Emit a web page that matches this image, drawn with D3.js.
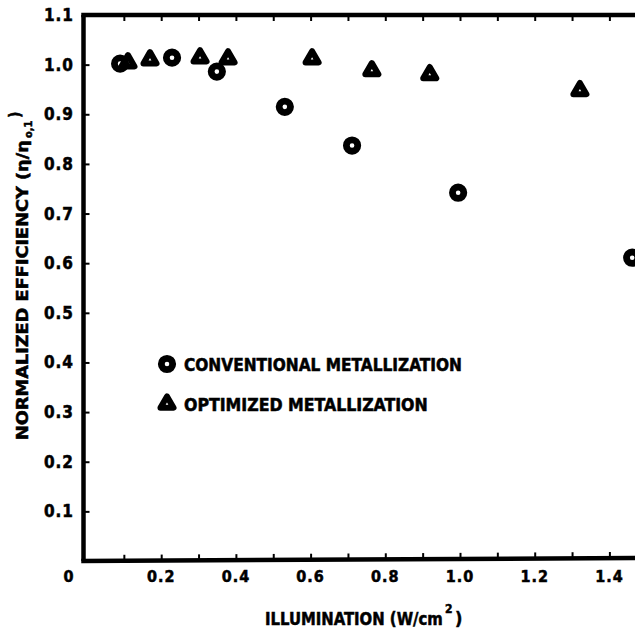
<!DOCTYPE html>
<html>
<head>
<meta charset="utf-8">
<script src="https://cdn.jsdelivr.net/npm/d3@7"></script>
<style>
  html, body { margin: 0; padding: 0; background: #fff; }
  svg { display: block; }
  text { font-family: "DejaVu Sans Condensed", "Liberation Sans Narrow", "DejaVu Sans", sans-serif; font-weight: bold; fill: #000; stroke: #000; stroke-width: 0.5; }
</style>
</head>
<body>
<script>
// ---- data ----
const convIllum = [0.090, 0.229, 0.349, 0.531, 0.711, 0.995, 1.461];
const convEff   = [1.002, 1.014, 0.986, 0.915, 0.837, 0.742, 0.611];
const optIllum  = [0.111, 0.170, 0.304, 0.379, 0.604, 0.764, 0.919, 1.321];
const optEff    = [1.004, 1.010, 1.014, 1.012, 1.012, 0.988, 0.980, 0.948];
const xTickLabels = [0.2, 0.4, 0.6, 0.8, 1.0, 1.2, 1.4];
const xMinorTicks = [0.1, 0.2, 0.3, 0.4, 0.5, 0.6, 0.7, 0.8, 0.9, 1.0, 1.1, 1.2, 1.3, 1.4];
const yTickLabels = [0.1, 0.2, 0.3, 0.4, 0.5, 0.6, 0.7, 0.8, 0.9, 1.0, 1.1];
const legendLabels = ["CONVENTIONAL  METALLIZATION", "OPTIMIZED  METALLIZATION"];

const W = 635, H = 634;
const svg = d3.select("body").append("svg").attr("width", W).attr("height", H);

const x = d3.scaleLinear().domain([0, 1.5]).range([86.5, 86.5 + 1.5 * 373.5]);
const y = d3.scaleLinear().domain([0, 1.1]).range([561, 15]);

const axisLeftX = 83.5;
const lw = 4.5;

// horizontally squeeze a text to a given width (keeps bbox honest)
function fitText(sel, tx, ty, width, rotate) {
  const L = sel.node().getComputedTextLength();
  const s = width / L;
  sel.attr("transform", `translate(${tx},${ty})` + (rotate ? ` rotate(${rotate})` : "") + ` scale(${s},1)`);
  return sel;
}

// frame: left axis, bottom axis, top axis
svg.append("path")
  .attr("d", `M${axisLeftX},${y(1.1)} L${axisLeftX},${y(0)}`)
  .attr("stroke", "#000").attr("stroke-width", lw).attr("fill", "none");
svg.append("path")
  .attr("d", `M${axisLeftX - lw/2},${y(0)} L${W},${y(0) - 3}`)
  .attr("stroke", "#000").attr("stroke-width", lw).attr("fill", "none");
svg.append("path")
  .attr("d", `M${axisLeftX - lw/2},${y(1.1)} L${W},${y(1.1)}`)
  .attr("stroke", "#000").attr("stroke-width", lw).attr("fill", "none");

// bottom minor ticks (inward)
const bt = svg.append("g").attr("transform", `translate(0,${y(0)})`)
  .call(d3.axisBottom(x).tickValues(xMinorTicks).tickSize(-6).tickFormat(""));
bt.select(".domain").remove();
bt.selectAll(".tick line").attr("stroke", "#000").attr("stroke-width", 2)
  .attr("transform", (d) => `translate(0,${-3 * d / 1.4})`);

// top minor ticks (inward)
const tt = svg.append("g").attr("transform", `translate(0,${y(1.1)})`)
  .call(d3.axisTop(x).tickValues(xMinorTicks).tickSize(-6).tickFormat(""));
tt.select(".domain").remove();
tt.selectAll(".tick line").attr("stroke", "#000").attr("stroke-width", 2);

// left ticks (inward)
const lt = svg.append("g").attr("transform", `translate(${axisLeftX},0)`)
  .call(d3.axisLeft(y).tickValues(yTickLabels.slice(0, 10)).tickSize(-6).tickFormat(""));
lt.select(".domain").remove();
lt.selectAll(".tick line").attr("stroke", "#000").attr("stroke-width", 2);

// y tick labels
svg.append("g").selectAll("text").data(yTickLabels).join("text")
  .attr("x", 74).attr("y", d => y(d) + 6)
  .attr("text-anchor", "end")
  .attr("font-size", 17)
  .attr("letter-spacing", 1)
  .text(d => d.toFixed(1));

// x tick labels
svg.append("g").selectAll("text").data(xTickLabels).join("text")
  .attr("x", d => x(d)).attr("y", 582)
  .attr("text-anchor", "middle")
  .attr("font-size", 16)
  .attr("letter-spacing", 1)
  .text(d => d.toFixed(1));
svg.append("text").attr("x", x(0) - 18).attr("y", 582)
  .attr("text-anchor", "middle").attr("font-size", 16).text("0");

// x axis title
fitText(svg.append("text").attr("font-size", 18).text("ILLUMINATION  (W/cm"), 265, 625, 178);
svg.append("text").attr("x", 445).attr("y", 613).attr("font-size", 12).text("2");
svg.append("text").attr("x", 455).attr("y", 625).attr("font-size", 18).text(")");

// y axis title
fitText(svg.append("text").attr("font-size", 16).text("NORMALIZED  EFFICIENCY  (\u03B7/\u03B7"), 28, 440, 300, -90);
svg.append("text")
  .attr("transform", `translate(32,${440 - 302}) rotate(-90)`)
  .attr("font-size", 11).text("o,1");
svg.append("text")
  .attr("transform", `translate(20,${440 - 322}) rotate(-90)`)
  .attr("font-size", 16).text(")");

// markers
const circR = 5.7, circSW = 6.8;
const triSW = 6;
const triPath = d3.symbol().type(d3.symbolTriangle).size(74)();

function drawCircle(g, cx, cy) {
  g.append("circle").attr("cx", cx).attr("cy", cy).attr("r", circR)
    .attr("fill", "none").attr("stroke", "#000").attr("stroke-width", circSW);
}
function drawTri(g, cx, cy) {
  g.append("path").attr("d", triPath).attr("transform", `translate(${cx},${cy})`)
    .attr("fill", "none").attr("stroke", "#000").attr("stroke-width", triSW)
    .attr("stroke-linejoin", "round");
}

const convData = convIllum.map((v, i) => ({x: v, y: convEff[i]}));
const optData = optIllum.map((v, i) => ({x: v, y: optEff[i]}));

svg.append("g").selectAll("circle").data(convData).join("circle")
  .attr("cx", d => x(d.x)).attr("cy", d => y(d.y)).attr("r", circR)
  .attr("fill", "none").attr("stroke", "#000").attr("stroke-width", circSW);

svg.append("g").selectAll("path").data(optData).join("path")
  .attr("d", triPath).attr("transform", d => `translate(${x(d.x)},${y(d.y)})`)
  .attr("fill", "none").attr("stroke", "#000").attr("stroke-width", triSW)
  .attr("stroke-linejoin", "round");

// legend
const leg = svg.append("g");
drawCircle(leg, 167, 364);
fitText(leg.append("text").attr("font-size", 17).text(legendLabels[0]), 184, 371, 278);
drawTri(leg, 167, 404);
fitText(leg.append("text").attr("font-size", 17).text(legendLabels[1]), 184, 411, 244);
</script>
</body>
</html>
